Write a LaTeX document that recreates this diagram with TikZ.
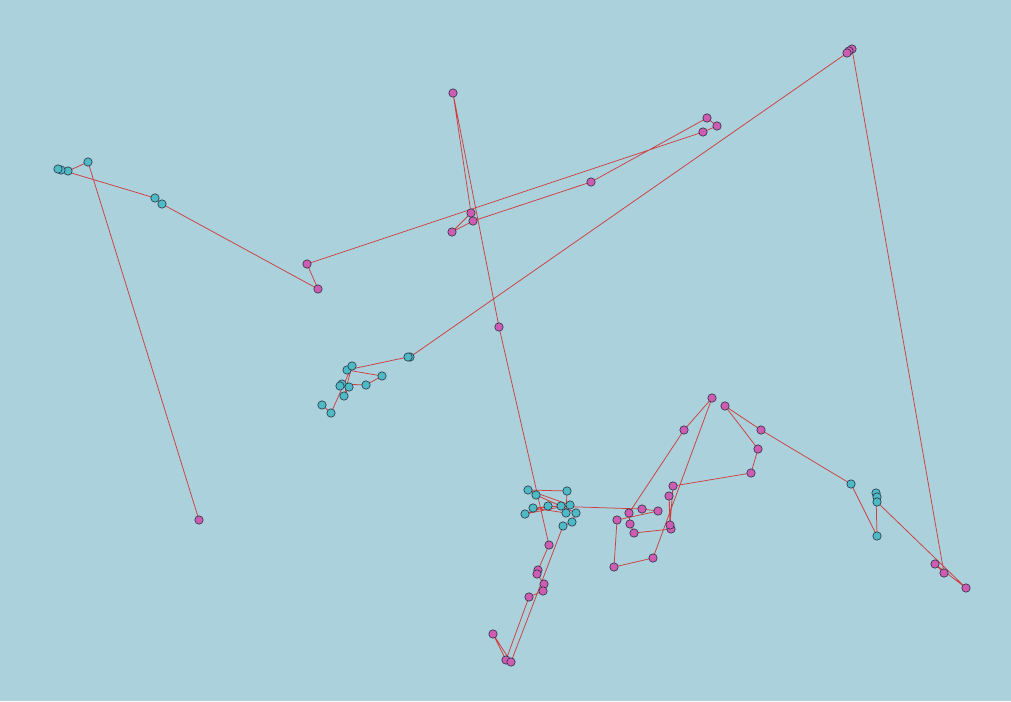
\documentclass[tikz,border=0pt]{standalone}
\usetikzlibrary{backgrounds}

\definecolor{seabg}{RGB}{170,209,220}
\definecolor{cdotfill}{RGB}{78,186,198}
\definecolor{pdotfill}{RGB}{206,92,178}
\definecolor{dotrim}{RGB}{40,50,66}
\definecolor{routered}{RGB}{208,62,62}

\tikzstyle{cdot} = [circle, draw=dotrim, line width=0.6pt, fill=cdotfill, minimum size=8.4pt, inner sep=0pt]
\tikzstyle{pdot} = [circle, draw=dotrim, line width=0.6pt, fill=pdotfill, minimum size=8.4pt, inner sep=0pt]
\tikzstyle{route} = [routered, line width=0.75pt, line join=round]

\begin{document}
\begin{tikzpicture}[x=1pt, y=-1pt]
\useasboundingbox (0,0) rectangle (1011,701);
\foreach \n/\x/\y/\s in {
    a1/199/520/pdot, a2/88/162/cdot, a3/68/171/cdot, a4/61/170/cdot,
    a5/58/169/cdot, a6/155/198/cdot, a7/162/204/cdot, a8/318/289/pdot,
    a9/307/264/pdot, a10/703/132/pdot, a11/717/126/pdot, a12/707/118/pdot,
    a13/591/182/pdot, a14/473/221/pdot, a15/452/232/pdot, a16/471/213/pdot,
    a17/453/93/pdot, a18/499/327/pdot, a19/549/545/pdot, a20/538/570/pdot,
    a21/537/574/pdot, a22/544/584/pdot, a23/543/591/pdot, a24/529/597/pdot,
    a25/506/660/pdot, a26/493/634/pdot, a27/511/662/pdot, a28/563/526/cdot,
    a29/572/522/cdot, a30/576/513/cdot, a31/536/495/cdot, a32/561/506/cdot,
    a33/533/508/cdot, a34/566/513/cdot, a35/567/491/cdot, a36/528/490/cdot,
    a37/570/505/cdot, a38/525/514/cdot, a39/548/506/cdot, a40/642/509/pdot,
    a41/658/511/pdot, a42/617/520/pdot, a43/614/567/pdot, a44/653/558/pdot,
    a45/712/398/pdot, a46/684/430/pdot, a47/629/513/pdot, a48/630/524/pdot,
    a49/634/533/pdot, a50/671/529/pdot, a51/669/496/pdot, a52/670/525/pdot,
    a53/673/486/pdot, a54/751/473/pdot, a55/758/449/pdot, a56/725/406/pdot,
    a57/761/430/pdot, a58/851/484/cdot, a59/877/536/cdot, a60/876/493/cdot,
    a61/877/497/cdot, a62/877/502/cdot, a63/966/588/pdot, a64/935/564/pdot,
    a65/944/573/pdot, a66/852/49/pdot, a67/849/51/pdot, a68/847/53/pdot,
    a69/410/357/cdot, a70/408/357/cdot, a71/347/370/cdot, a72/382/376/cdot,
    a73/366/385/cdot, a74/342/384/cdot, a75/340/386/cdot, a76/349/387/cdot,
    a77/344/396/cdot, a78/352/366/cdot, a79/331/413/cdot, a80/322/405/cdot}
    \node[\s] (\n) at (\x,\y) {};
\begin{pgfonlayer}{background}
\fill[seabg] (0,0) rectangle (1011,701);
\draw[route] (a1.center) \foreach \i in {2,...,80} { -- (a\i.center) };
\end{pgfonlayer}
\end{tikzpicture}
\end{document}
